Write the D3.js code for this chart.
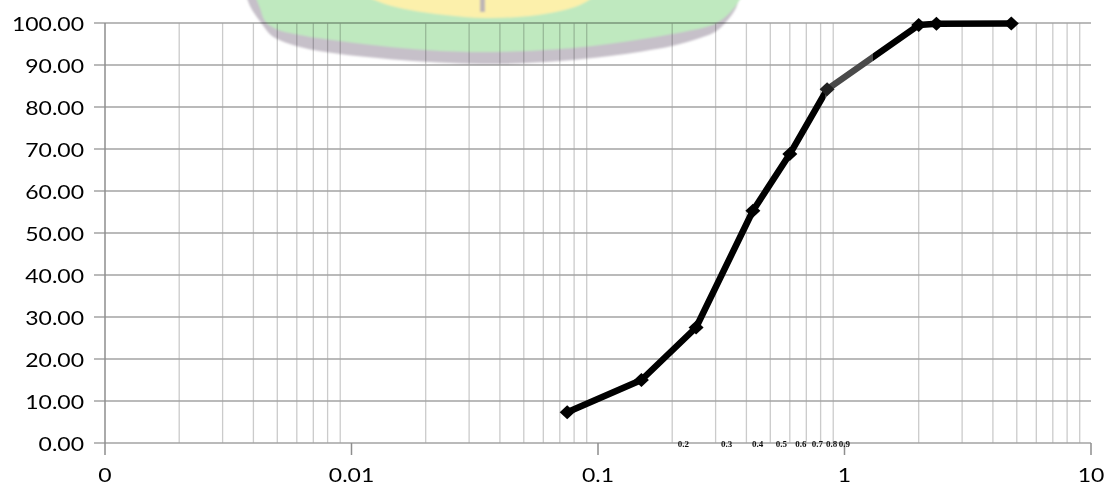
<!DOCTYPE html>
<html><head><meta charset="utf-8">
<script src="https://cdn.jsdelivr.net/npm/d3@7"></script>
<style>
html,body{margin:0;padding:0;background:#fff;}
svg{display:block;}
</style></head>
<body>
<svg id="chart" width="1114" height="486"></svg>
<script>
// ---- data ----
const sieveSize = [0.075, 0.15, 0.25, 0.425, 0.6, 0.85, 2.0, 2.36, 4.75];
const percentPassing = [7.3, 15.0, 27.5, 55.3, 68.8, 84.2, 99.5, 99.8, 99.9];
const xTicks = [0.001, 0.01, 0.1, 1, 10];
const xTickLabels = ["0", "0.01", "0.1", "1", "10"];
const yTicks = [0, 10, 20, 30, 40, 50, 60, 70, 80, 90, 100];
const smallLabels = [0.2, 0.3, 0.4, 0.5, 0.6, 0.7, 0.8, 0.9];
const minorMultipliers = [2, 3, 4, 5, 6, 7, 8, 9];

const svg = d3.select("#chart");
const x = d3.scaleLog().domain([0.001, 10]).range([105, 1091]);
const y = d3.scaleLinear().domain([0, 100]).range([443, 23]);
const fmtY = d3.format(".2f");
const SX = 1.15;
const FONT = "Lato, 'Open Sans', sans-serif";

const defs = svg.append("defs");
defs.append("filter").attr("id", "soft").attr("x", "-10%").attr("y", "-50%").attr("width", "120%").attr("height", "200%")
  .append("feGaussianBlur").attr("stdDeviation", 1.2);

// minor vertical grid
const minorVals = [];
xTicks.slice(0, -1).forEach(d => minorMultipliers.forEach(k => minorVals.push(d * k)));
svg.append("g").selectAll("line").data(minorVals).join("line")
  .attr("x1", d => x(d)).attr("x2", d => x(d))
  .attr("y1", y(100)).attr("y2", y(0))
  .attr("stroke", "#cbcbcb").attr("stroke-width", 1.3);

// horizontal grid (extends left as tick)
svg.append("g").selectAll("line").data(yTicks).join("line")
  .attr("x1", 94).attr("x2", x(10))
  .attr("y1", d => y(d)).attr("y2", d => y(d))
  .attr("stroke", "#a3a3a3").attr("stroke-width", 1.5);

// y axis line
svg.append("line").attr("x1", x(0.001)).attr("x2", x(0.001))
  .attr("y1", y(100)).attr("y2", y(0))
  .attr("stroke", "#8e8e8e").attr("stroke-width", 1.5);

// x major ticks
svg.append("g").selectAll("line").data(xTicks).join("line")
  .attr("x1", d => x(d)).attr("x2", d => x(d))
  .attr("y1", y(0)).attr("y2", y(0) + 12)
  .attr("stroke", "#8e8e8e").attr("stroke-width", 1.5);

// watermark (decorative logo fragment at top)
const wm = svg.append("g").style("mix-blend-mode", "multiply").attr("filter", "url(#soft)");
const curve = d3.line().curve(d3.curveCatmullRom.alpha(0.5));
const shadowPts = [[247,-2],[251,8],[262,24],[272,36],[300,47],[340,54],[400,60],[450,63],[500,64],[560,61],[610,56],[672,46],[700,38],[715,32],[726,22],[736,8],[739,-2]];
const greenPts = [[256,-2],[260,8],[265,21],[276,29],[300,35],[340,41],[426,50],[492,52],[560,49],[600,45],[672,34],[712,25],[724,18],[734,8],[741,-2]];
const yellowPts = [[370,-2],[385,4],[410,10],[445,15],[485,18],[530,16],[560,11],[580,5],[592,-2]];
wm.append("path").attr("d", curve(shadowPts) + "Z").attr("fill", "#c6c0c9");
wm.append("path").attr("d", curve(greenPts) + "Z").attr("fill", "#bfe9bf");
wm.append("path").attr("d", curve(yellowPts) + "Z").attr("fill", "#fcf0ab");
wm.append("rect").attr("x", 480).attr("y", -2).attr("width", 5).attr("height", 14).attr("fill", "#bdb5b5");

// y labels
svg.append("g").selectAll("text").data(yTicks).join("text")
  .attr("transform", d => `translate(84,${y(d) + 7.5}) scale(${SX},1)`)
  .attr("text-anchor", "end").style("font-family", FONT).attr("font-size", 20).attr("fill", "#000")
  .text(d => fmtY(d));

// x labels
svg.append("g").selectAll("text").data(xTicks).join("text")
  .attr("transform", d => `translate(${x(d)},482) scale(${SX},1)`)
  .attr("text-anchor", "middle").style("font-family", FONT).attr("font-size", 20).attr("fill", "#000")
  .text((d, i) => xTickLabels[i]);

// small labels
svg.append("g").selectAll("text").data(smallLabels).join("text")
  .attr("x", d => x(d) + 5.5).attr("y", 447)
  .style("font-family", "'Liberation Serif', 'DejaVu Serif', serif")
  .style("font-weight", "bold").attr("font-size", 9).attr("fill", "#111")
  .text(d => d);

// line gradient (gray part)
const gx0 = x(0.075), gx1 = x(4.75);
const grad = defs.append("linearGradient").attr("id", "lg")
  .attr("gradientUnits", "userSpaceOnUse")
  .attr("x1", gx0).attr("x2", gx1).attr("y1", 0).attr("y2", 0);
const frac = v => (v - gx0) / (gx1 - gx0);
[[0, "#000"], [frac(x(0.83)), "#000"], [frac(x(0.83)), "#4a4a4a"], [frac(x(1.3)), "#4a4a4a"], [frac(x(1.3)), "#000"], [1, "#000"]]
  .forEach(([o, c]) => grad.append("stop").attr("offset", o).attr("stop-color", c));

const pts = sieveSize.map((s, i) => [s, percentPassing[i]]);
svg.append("path").datum(pts)
  .attr("d", d3.line().x(d => x(d[0])).y(d => y(d[1])))
  .attr("fill", "none").attr("stroke", "url(#lg)").attr("stroke-width", 6.5)
  .attr("stroke-linejoin", "round");

// diamond markers
svg.append("g").selectAll("path").data(pts).join("path")
  .attr("transform", d => `translate(${x(d[0])},${y(d[1])})`)
  .attr("d", "M0,-7L7.5,0L0,7L-7.5,0Z")
  .attr("fill", (d, i) => i === 5 ? "#222" : "#000");
</script>
</body></html>
